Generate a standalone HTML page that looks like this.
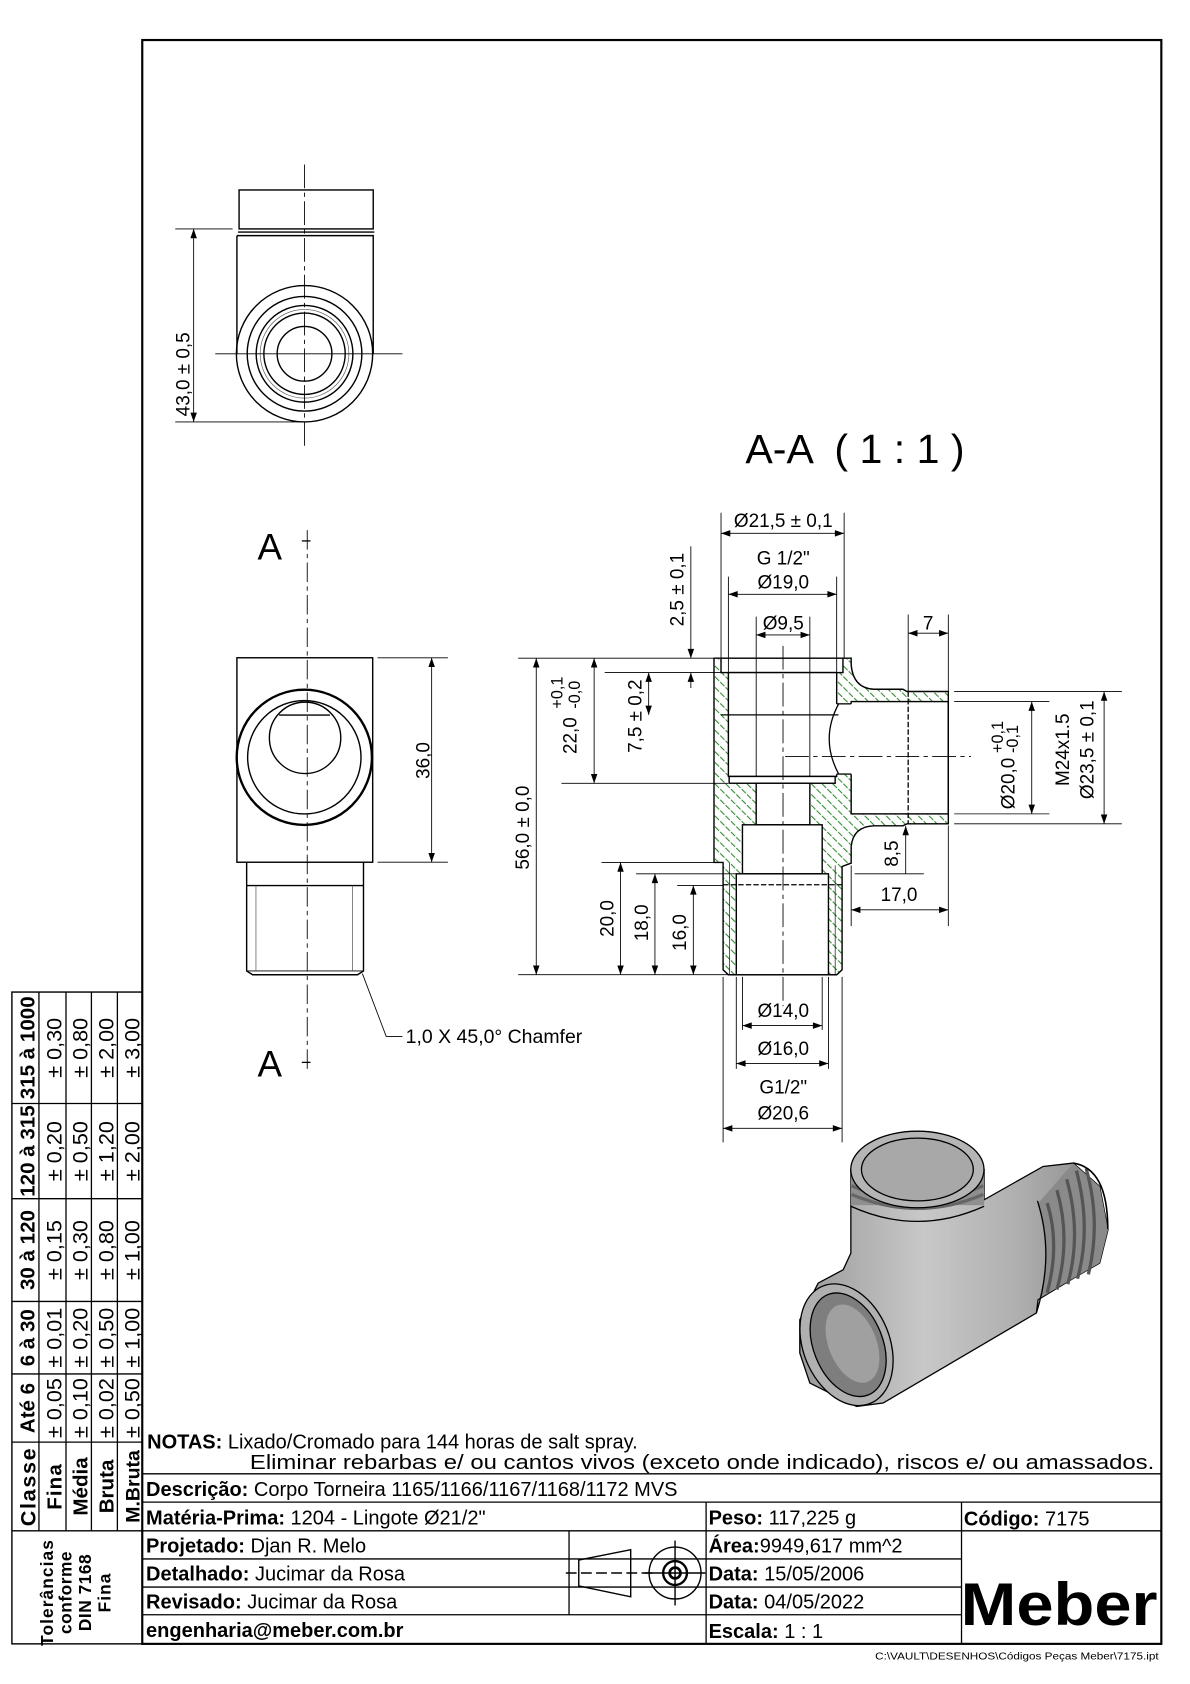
<!DOCTYPE html>
<html><head><meta charset="utf-8"><style>
html,body{margin:0;padding:0;background:#fff;}
svg{display:block;}
text{font-family:"Liberation Sans",Arial,sans-serif;fill:#000;}
</style></head><body>
<svg width="1190" height="1684" viewBox="0 0 1100 1556.6" preserveAspectRatio="none" xmlns="http://www.w3.org/2000/svg">
<defs>
<marker id="ar" viewBox="0 0 10 7" refX="10" refY="3.5" markerWidth="9" markerHeight="6" markerUnits="userSpaceOnUse" orient="auto-start-reverse"><path d="M0,0 L10,3.5 L0,7 z" fill="#000"/></marker>
<pattern id="hatch" width="7" height="7" patternUnits="userSpaceOnUse" patternTransform="rotate(45)"><line x1="0" y1="3" x2="7" y2="3" stroke="#2f8a2f" stroke-width="0.9" stroke-dasharray="5 1.5"/></pattern>
<linearGradient id="gb" x1="0" y1="0" x2="1" y2="0"><stop offset="0" stop-color="#9a9a9a"/><stop offset="0.4" stop-color="#c8c8c8"/><stop offset="0.7" stop-color="#b0b0b0"/><stop offset="1" stop-color="#8a8a8a"/></linearGradient>
</defs>

<g fill="none" stroke="#000">
<rect x="131.5" y="37" width="942" height="1482.5" stroke-width="2"/>
<line x1="131.5" y1="1362.3" x2="1073.5" y2="1362.3" stroke-width="1.2"/>
<line x1="131.5" y1="1388.5" x2="1073.5" y2="1388.5" stroke-width="1.2"/>
<line x1="131.5" y1="1415" x2="1073.5" y2="1415" stroke-width="1.2"/>
<line x1="131.5" y1="1441" x2="888.8" y2="1441" stroke-width="1.2"/>
<line x1="131.5" y1="1467" x2="888.8" y2="1467" stroke-width="1.2"/>
<line x1="131.5" y1="1492.6" x2="888.8" y2="1492.6" stroke-width="1.2"/>
<line x1="652.7" y1="1388.5" x2="652.7" y2="1519.5" stroke-width="1.2"/>
<line x1="888.8" y1="1388.5" x2="888.8" y2="1519.5" stroke-width="1.2"/>
<line x1="526" y1="1415" x2="526" y2="1492.6" stroke-width="1.2"/>
<rect x="11" y="917" width="120.5" height="602.5" stroke-width="1.3"/>
<line x1="36" y1="917" x2="36" y2="1415" stroke-width="1.2"/>
<line x1="61" y1="917" x2="61" y2="1415" stroke-width="1.2"/>
<line x1="84.5" y1="917" x2="84.5" y2="1415" stroke-width="1.2"/>
<line x1="108.5" y1="917" x2="108.5" y2="1415" stroke-width="1.2"/>
<line x1="11" y1="1020" x2="131.5" y2="1020" stroke-width="1.2"/>
<line x1="11" y1="1108" x2="131.5" y2="1108" stroke-width="1.2"/>
<line x1="11" y1="1203" x2="131.5" y2="1203" stroke-width="1.2"/>
<line x1="11" y1="1270" x2="131.5" y2="1270" stroke-width="1.2"/>
<line x1="11" y1="1333" x2="131.5" y2="1333" stroke-width="1.2"/>
<line x1="11" y1="1415" x2="131.5" y2="1415" stroke-width="1.2"/>
</g>

<g font-size="20">
<g font-weight="bold" font-size="19">
<text transform="translate(32,968.5) rotate(-90)" text-anchor="middle">315 à 1000</text>
<text transform="translate(32,1064) rotate(-90)" text-anchor="middle">120 à 315</text>
<text transform="translate(32,1155.5) rotate(-90)" text-anchor="middle">30 à 120</text>
<text transform="translate(32,1236.5) rotate(-90)" text-anchor="middle">6 à 30</text>
<text transform="translate(32,1301.5) rotate(-90)" text-anchor="middle">Até 6</text>
<text transform="translate(33,1374) rotate(-90)" text-anchor="middle" font-size="20" letter-spacing="1.5">Classe</text>
<text transform="translate(57,1374) rotate(-90)" text-anchor="middle" font-size="19" letter-spacing="1">Fina</text>
<text transform="translate(81,1374) rotate(-90)" text-anchor="middle" font-size="19">Média</text>
<text transform="translate(105,1374) rotate(-90)" text-anchor="middle" font-size="19">Bruta</text>
<text transform="translate(129,1374) rotate(-90)" text-anchor="middle" font-size="18">M.Bruta</text>
<text transform="translate(49,1472) rotate(-90)" text-anchor="middle" font-size="16" letter-spacing="1">Tolerâncias</text>
<text transform="translate(66,1472) rotate(-90)" text-anchor="middle" font-size="16" letter-spacing="0.5">conforme</text>
<text transform="translate(84,1472) rotate(-90)" text-anchor="middle" font-size="16" letter-spacing="0.5">DIN 7168</text>
<text transform="translate(102,1472) rotate(-90)" text-anchor="middle" font-size="16" letter-spacing="1">Fina</text>
</g>
<text transform="translate(57,968.5) rotate(-90)" text-anchor="middle">± 0,30</text>
<text transform="translate(57,1064) rotate(-90)" text-anchor="middle">± 0,20</text>
<text transform="translate(57,1155.5) rotate(-90)" text-anchor="middle">± 0,15</text>
<text transform="translate(57,1236.5) rotate(-90)" text-anchor="middle">± 0,01</text>
<text transform="translate(57,1301.5) rotate(-90)" text-anchor="middle">± 0,05</text>
<text transform="translate(81,968.5) rotate(-90)" text-anchor="middle">± 0,80</text>
<text transform="translate(81,1064) rotate(-90)" text-anchor="middle">± 0,50</text>
<text transform="translate(81,1155.5) rotate(-90)" text-anchor="middle">± 0,30</text>
<text transform="translate(81,1236.5) rotate(-90)" text-anchor="middle">± 0,20</text>
<text transform="translate(81,1301.5) rotate(-90)" text-anchor="middle">± 0,10</text>
<text transform="translate(105,968.5) rotate(-90)" text-anchor="middle">± 2,00</text>
<text transform="translate(105,1064) rotate(-90)" text-anchor="middle">± 1,20</text>
<text transform="translate(105,1155.5) rotate(-90)" text-anchor="middle">± 0,80</text>
<text transform="translate(105,1236.5) rotate(-90)" text-anchor="middle">± 0,50</text>
<text transform="translate(105,1301.5) rotate(-90)" text-anchor="middle">± 0,02</text>
<text transform="translate(129,968.5) rotate(-90)" text-anchor="middle">± 3,00</text>
<text transform="translate(129,1064) rotate(-90)" text-anchor="middle">± 2,00</text>
<text transform="translate(129,1155.5) rotate(-90)" text-anchor="middle">± 1,00</text>
<text transform="translate(129,1236.5) rotate(-90)" text-anchor="middle">± 1,00</text>
<text transform="translate(129,1301.5) rotate(-90)" text-anchor="middle">± 0,50</text>
</g>

<g font-size="18.5">
<text x="136" y="1339"><tspan font-weight="bold">NOTAS:</tspan> Lixado/Cromado para 144 horas de salt spray.</text>
<text x="231" y="1358" textLength="836" lengthAdjust="spacingAndGlyphs">Eliminar rebarbas e/ ou cantos vivos (exceto onde indicado), riscos e/ ou amassados.</text>
<text x="135" y="1383"><tspan font-weight="bold">Descrição:</tspan> Corpo Torneira 1165/1166/1167/1168/1172 MVS</text>
<text x="135" y="1409"><tspan font-weight="bold">Matéria-Prima:</tspan> 1204 - Lingote Ø21/2"</text>
<text x="655" y="1409"><tspan font-weight="bold">Peso:</tspan> 117,225 g</text>
<text x="891" y="1410"><tspan font-weight="bold">Código:</tspan> 7175</text>
<text x="135" y="1435"><tspan font-weight="bold">Projetado:</tspan> Djan R. Melo</text>
<text x="135" y="1461"><tspan font-weight="bold">Detalhado:</tspan> Jucimar da Rosa</text>
<text x="135" y="1487"><tspan font-weight="bold">Revisado:</tspan> Jucimar da Rosa</text>
<text x="135" y="1513" font-weight="bold">engenharia@meber.com.br</text>
<text x="655" y="1435"><tspan font-weight="bold">Área:</tspan>9949,617 mm^2</text>
<text x="655" y="1461"><tspan font-weight="bold">Data:</tspan> 15/05/2006</text>
<text x="655" y="1487"><tspan font-weight="bold">Data:</tspan> 04/05/2022</text>
<text x="655" y="1514"><tspan font-weight="bold">Escala:</tspan> 1 : 1</text>
</g>
<text x="888" y="1502" font-size="56" font-weight="bold" textLength="182" lengthAdjust="spacingAndGlyphs">Meber</text>
<text x="1071" y="1534" font-size="9.5" text-anchor="end" textLength="262" lengthAdjust="spacingAndGlyphs">C:\VAULT\DESENHOS\Códigos Peças Meber\7175.ipt</text>

<g fill="none" stroke="#000" stroke-width="1.3">
<path d="M535,1442 L583,1432.5 L583,1476 L535,1466 z"/>
<line x1="523" y1="1454" x2="603" y2="1454" stroke-dasharray="10 4"/>
<circle cx="624" cy="1454" r="24"/>
<circle cx="624" cy="1454" r="11" stroke-width="2.2"/>
<circle cx="624" cy="1454" r="5" stroke-width="2.5"/>
<line x1="624" y1="1424" x2="624" y2="1484"/>
<line x1="596" y1="1454" x2="652" y2="1454"/>
</g>

<!-- TOP VIEW -->
<g fill="none" stroke="#000" stroke-width="1.3">
<rect x="221" y="175.6" width="124" height="36"/>
<line x1="220" y1="214.5" x2="346" y2="214.5"/>
<path d="M219,217.8 L345,217.8 L345,327 M219,217.8 L219,327"/>
<circle cx="281.5" cy="327" r="63"/>
<circle cx="281.5" cy="327" r="53"/>
<circle cx="281.5" cy="327" r="44.7"/>
<circle cx="281.5" cy="327" r="41" stroke-width="0.6" stroke="#555"/>
<circle cx="281.5" cy="327" r="37.6"/>
<circle cx="281.5" cy="327" r="25.3"/>
</g>
<g stroke="#000" stroke-width="0.8" fill="none">
<line x1="281.5" y1="152" x2="281.5" y2="413" stroke-dasharray="22 4 4 4"/>
<line x1="199" y1="327" x2="372" y2="327"/>
<line x1="162" y1="211.6" x2="215" y2="211.6"/>
<line x1="162" y1="390" x2="280" y2="390"/>
<line x1="179" y1="211.6" x2="179" y2="390" marker-start="url(#ar)" marker-end="url(#ar)"/>
</g>
<text transform="translate(175,346) rotate(-90)" text-anchor="middle" font-size="17.5">43,0 ± 0,5</text>

<!-- FRONT VIEW -->
<g fill="none" stroke="#000" stroke-width="1.3">
<rect x="219" y="608" width="125.5" height="189"/>
<circle cx="281.3" cy="700" r="62.5" stroke-width="2.2"/>
<circle cx="281.3" cy="700" r="52.4"/>
<circle cx="282" cy="682" r="33"/>
<line x1="258" y1="661" x2="305" y2="661"/>
<path d="M228,797 L228,897.5 L233.5,901 L330.5,901 L336,897.5 L336,797"/>
<line x1="228" y1="818.6" x2="336" y2="818.6"/>
<line x1="228" y1="897.5" x2="336" y2="897.5" stroke-width="0.8"/>
<line x1="236.6" y1="818.6" x2="236.6" y2="897.5" stroke-width="0.6" stroke="#444"/>
<line x1="326" y1="818.6" x2="326" y2="897.5" stroke-width="0.6" stroke="#444"/>
</g>
<g stroke="#000" stroke-width="0.8" fill="none">
<line x1="284" y1="490" x2="284" y2="990" stroke-dasharray="18 4 4 4"/>
<line x1="279" y1="500" x2="287" y2="500" stroke-width="1.2"/>
<line x1="279" y1="982" x2="287" y2="982" stroke-width="1.2"/>
<line x1="349" y1="608" x2="414" y2="608"/>
<line x1="349" y1="797" x2="414" y2="797"/>
<line x1="399" y1="608" x2="399" y2="797" marker-start="url(#ar)" marker-end="url(#ar)"/>
<polyline points="335,900 357,958 372,958"/>
</g>
<text x="238" y="517" font-size="34">A</text>
<text x="238" y="995" font-size="34">A</text>
<text transform="translate(397,703) rotate(-90)" text-anchor="middle" font-size="17.5">36,0</text>
<text x="375" y="964" font-size="18">1,0 X 45,0° Chamfer</text>

<!-- SECTION A-A -->
<text x="689" y="428" font-size="38" xml:space="preserve">A-A  ( 1 : 1 )</text>
<path d="M660,608.4 L786.8,608.4 L786.8,614.6 Q788.7,636.1 807.8,637.1 L834.6,637.1 L838.4,639.2 L876.6,639.2 L876.6,761.5 L838.4,761.5 L834.6,763.3 L807.8,763.3 Q788.7,763.9 786.8,782.4 L786.8,797.8 L778.4,800.9 L778.4,896.4 L773.4,901 L673.3,901 L668.4,896.4 L668.4,797.2 L660,797.2 Z" fill="url(#hatch)" stroke="#000" stroke-width="1.3"/>
<g fill="#fff" stroke="#000" stroke-width="1.3">
<rect x="666.5" y="608.4" width="112.7" height="13.3"/>
<rect x="673.3" y="621.7" width="100.1" height="96"/>
<rect x="786.8" y="648.5" width="89.7" height="103.8"/>
<rect x="770" y="650.6" width="18" height="65" stroke="none"/>
<rect x="674" y="717.7" width="98" height="6.3"/>
<rect x="699" y="724" width="49.6" height="38.4"/>
<rect x="686.3" y="762.4" width="73.7" height="45.3"/>
<rect x="680.6" y="807.7" width="85.2" height="93.3"/>
</g>
<g fill="none" stroke="#000" stroke-width="1.2">
<line x1="773.4" y1="650.6" x2="786.8" y2="650.6"/>
<line x1="773.4" y1="715.5" x2="786.8" y2="715.5"/>
<path d="M775,651 Q758,683 775,715"/>
<line x1="666.5" y1="660.8" x2="775" y2="660.8"/>
<line x1="839.5" y1="639.2" x2="839.5" y2="761.5" stroke-dasharray="5 2"/>
<line x1="668.4" y1="817.8" x2="778.4" y2="817.8" stroke-dasharray="5 2"/>
<line x1="674.5" y1="797.5" x2="674.5" y2="901" stroke-width="0.6"/>
<line x1="772" y1="800" x2="772" y2="901" stroke-width="0.6"/>
</g>
<g stroke="#000" stroke-width="0.8" fill="none">
<line x1="723.8" y1="597" x2="723.8" y2="930" stroke-dasharray="22 4 4 4"/>
<line x1="725.7" y1="699.3" x2="897.6" y2="699.3" stroke-dasharray="22 4 4 4"/>
<line x1="666.5" y1="474" x2="666.5" y2="608"/>
<line x1="780.3" y1="474" x2="780.3" y2="608"/>
<line x1="666.5" y1="493" x2="780.3" y2="493" marker-start="url(#ar)" marker-end="url(#ar)"/>
<line x1="673.3" y1="533" x2="673.3" y2="621"/>
<line x1="773.4" y1="533" x2="773.4" y2="621"/>
<line x1="673.3" y1="549.3" x2="773.4" y2="549.3" marker-start="url(#ar)" marker-end="url(#ar)"/>
<line x1="699" y1="570" x2="699" y2="718"/>
<line x1="748.6" y1="570" x2="748.6" y2="718"/>
<line x1="699" y1="586.9" x2="748.6" y2="586.9" marker-start="url(#ar)" marker-end="url(#ar)"/>
<line x1="839.5" y1="568" x2="839.5" y2="639"/>
<line x1="876.6" y1="568" x2="876.6" y2="639"/>
<line x1="839.5" y1="585.3" x2="876.6" y2="585.3" marker-start="url(#ar)" marker-end="url(#ar)"/>
<line x1="638.6" y1="505" x2="638.6" y2="608.4" marker-end="url(#ar)"/>
<line x1="638.6" y1="636" x2="638.6" y2="621.7" marker-end="url(#ar)"/>
<line x1="479" y1="608.4" x2="660" y2="608.4"/>
<line x1="559" y1="621.7" x2="666" y2="621.7"/>
<line x1="519" y1="724" x2="673" y2="724"/>
<line x1="549.2" y1="608.4" x2="549.2" y2="724" marker-start="url(#ar)" marker-end="url(#ar)"/>
<line x1="599.6" y1="621.7" x2="599.6" y2="660.8" marker-start="url(#ar)" marker-end="url(#ar)"/>
<line x1="495.7" y1="608.4" x2="495.7" y2="901" marker-start="url(#ar)" marker-end="url(#ar)"/>
<line x1="479" y1="901" x2="673" y2="901"/>
<line x1="556" y1="797.2" x2="660" y2="797.2"/>
<line x1="573.6" y1="797.2" x2="573.6" y2="901" marker-start="url(#ar)" marker-end="url(#ar)"/>
<line x1="588" y1="807.7" x2="680" y2="807.7"/>
<line x1="605.4" y1="807.7" x2="605.4" y2="901" marker-start="url(#ar)" marker-end="url(#ar)"/>
<line x1="626" y1="818.4" x2="668" y2="818.4"/>
<line x1="640.9" y1="818.4" x2="640.9" y2="901" marker-start="url(#ar)" marker-end="url(#ar)"/>
<line x1="882" y1="648.5" x2="970" y2="648.5"/>
<line x1="882" y1="752.3" x2="970" y2="752.3"/>
<line x1="953.7" y1="648.5" x2="953.7" y2="752.3" marker-start="url(#ar)" marker-end="url(#ar)"/>
<line x1="882" y1="639.2" x2="1037" y2="639.2"/>
<line x1="882" y1="761.5" x2="1037" y2="761.5"/>
<line x1="1020.6" y1="639.2" x2="1020.6" y2="761.5" marker-start="url(#ar)" marker-end="url(#ar)"/>
<line x1="837.2" y1="807.7" x2="837.2" y2="763.5" marker-end="url(#ar)"/>
<line x1="790" y1="807.7" x2="854" y2="807.7"/>
<line x1="786.8" y1="800" x2="786.8" y2="856"/>
<line x1="876.6" y1="763" x2="876.6" y2="856"/>
<line x1="786.8" y1="841" x2="876.6" y2="841" marker-start="url(#ar)" marker-end="url(#ar)"/>
<line x1="668.4" y1="903" x2="668.4" y2="1056"/>
<line x1="778.4" y1="903" x2="778.4" y2="1056"/>
<line x1="680.6" y1="903" x2="680.6" y2="988"/>
<line x1="765.8" y1="903" x2="765.8" y2="988"/>
<line x1="686.3" y1="903" x2="686.3" y2="952"/>
<line x1="760" y1="903" x2="760" y2="952"/>
<line x1="686.3" y1="948" x2="760" y2="948" marker-start="url(#ar)" marker-end="url(#ar)"/>
<line x1="680.6" y1="983" x2="765.8" y2="983" marker-start="url(#ar)" marker-end="url(#ar)"/>
<line x1="668.4" y1="1043" x2="778.4" y2="1043" marker-start="url(#ar)" marker-end="url(#ar)"/>
</g>
<g font-size="17.5" text-anchor="middle">
<text x="724" y="487">Ø21,5 ± 0,1</text>
<text x="724" y="522">G 1/2"</text>
<text x="724" y="544">Ø19,0</text>
<text x="724" y="582">Ø9,5</text>
<text x="858" y="582">7</text>
<text x="831" y="833">17,0</text>
<text x="724" y="940">Ø14,0</text>
<text x="724" y="975">Ø16,0</text>
<text x="724" y="1011">G1/2"</text>
<text x="724" y="1035">Ø20,6</text>
<text transform="translate(632,545) rotate(-90)">2,5 ± 0,1</text>
<text transform="translate(593,662) rotate(-90)">7,5 ± 0,2</text>
<text transform="translate(489,765) rotate(-90)">56,0 ± 0,0</text>
<text transform="translate(567,849) rotate(-90)">20,0</text>
<text transform="translate(599,853) rotate(-90)">18,0</text>
<text transform="translate(634,862) rotate(-90)">16,0</text>
<text transform="translate(830,789) rotate(-90)">8,5</text>
<text transform="translate(988,693) rotate(-90)">M24x1.5</text>
<text transform="translate(1011,693) rotate(-90)">Ø23,5 ± 0,1</text>
</g>
<g font-size="17.5">
<g transform="translate(533,697) rotate(-90)"><text x="0" y="0">22,0</text><text x="42" y="-13" font-size="15">+0,1</text><text x="42" y="3" font-size="15">-0,0</text></g>
<g transform="translate(938,748) rotate(-90)"><text x="0" y="0">Ø20,0</text><text x="52" y="-11" font-size="15">+0,1</text><text x="52" y="3" font-size="15">-0,1</text></g>
</g>

<!-- 3D view -->
<g stroke="#000" stroke-width="1.2">
<path d="M739.3,1219.9 L756.3,1186 L779.4,1173.7 L786.5,1158.3 L786.5,1081.3 L909.7,1081.3 L909.7,1109 L964.2,1078.2 L992,1075.1 L1016.5,1096.7 L1024.2,1136.7 L1016.5,1167.5 L995,1179.9 L959.6,1201.4 L958,1213.7 L816.3,1296.9 L791.7,1300 L748.6,1278.4 L739.3,1250.7 Z" fill="url(#gb)"/>
<path d="M959,1113 L992,1075.1 L1016.5,1096.7 L1024.2,1136.7 L1016.5,1167.5 L995,1179.9 L961,1200 Q972,1155 959,1113 Z" fill="#8a8a8a" stroke="none"/>
<g fill="none" stroke="#555" stroke-width="3">
<path d="M968,1112 Q980,1150 968,1195"/>
<path d="M977,1100 Q990,1145 977,1192"/>
<path d="M986,1090 Q1000,1140 987,1187"/>
<path d="M995,1082 Q1009,1135 996,1182"/>
<path d="M1004,1080 Q1018,1130 1006,1178"/>
</g>
<path d="M958,1213.7 Q975,1160 959,1110" fill="none"/>
<path d="M992,1075.1 Q1024,1080 1024,1136" fill="none" stroke-width="1.5"/>
<rect x="786.5" y="1081" width="123.2" height="33" fill="#8f8f8f" stroke="none"/>
<g stroke="#666" stroke-width="3" fill="none">
<path d="M787,1096 Q848,1122 909,1096"/>
<path d="M787,1104 Q848,1130 909,1104"/>
</g>
<path d="M786.5,1115 Q848,1143 909.7,1115" fill="none"/>
<ellipse cx="848" cy="1081" rx="61.6" ry="35.4" fill="#b5b5b5"/>
<ellipse cx="848" cy="1081" rx="51.7" ry="29" fill="#a8a8a8"/>
<ellipse cx="782.5" cy="1243" rx="40" ry="58.5" transform="rotate(-22 782.5 1243)" fill="#b0b0b0"/>
<ellipse cx="784" cy="1243" rx="32" ry="50" transform="rotate(-22 784 1243)" fill="#7e7e7e"/>
<ellipse cx="788" cy="1242" rx="22" ry="38" transform="rotate(-22 788 1242)" fill="#a0a0a0" stroke="none"/>
</g>
</svg>
</body></html>
